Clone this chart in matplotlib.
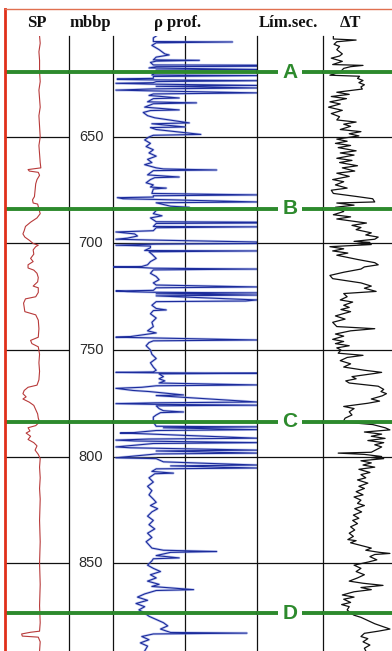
import matplotlib
matplotlib.use("Agg")
import matplotlib.pyplot as plt
from matplotlib.lines import Line2D
import numpy as np

# --- data (depth in m, curve position as % of track width) ---
depth_ticks = [650, 700, 750, 800, 850]
marker_labels = ["A", "B", "C", "D"]
marker_depths = [619.5, 683.8, 783.8, 873.5]
headers = ["SP", "mbbp", "\u03c1 prof.", "L\u00edm.sec.", "\u0394T"]

sp_log = [
    (602.6, 54), (606, 55), (610, 53), (614, 54), (619.5, 54), (624, 55), (628, 53),
    (632, 54), (636, 55), (640, 53), (645, 54), (650, 55), (654, 53), (658, 54),
    (662, 55), (664.5, 56), (665.3, 36), (666, 38), (666.6, 52), (668, 54), (670, 50),
    (672, 48), (675, 47), (678, 46), (679.5, 43), (681, 44), (681.5, 51), (683.8, 53),
    (686, 55), (688, 50), (690, 40), (692, 32), (694, 30), (695.5, 28), (697, 31),
    (698.5, 38), (700, 44), (700.8, 52), (701.5, 48), (703, 44), (705, 45), (707, 40),
    (708.5, 44), (710, 36), (711.5, 36), (712.5, 45), (714, 50), (716, 52), (718, 51),
    (720, 44), (720.8, 52), (723, 52), (725, 48), (726, 32), (728, 29), (730, 30),
    (732, 31), (733.5, 48), (736, 52), (740, 53), (744, 52), (745.5, 40), (747, 42),
    (748.5, 52), (752, 54), (756, 53), (760, 54), (764, 53), (766.5, 50), (767.5, 36),
    (769, 30), (770.5, 28), (772, 33), (773, 28), (774.5, 38), (776, 45), (778, 48),
    (780, 51), (782, 52), (783.8, 54), (785.5, 48), (786.5, 36), (788, 39), (789, 33),
    (790.5, 40), (792, 36), (793.5, 45), (795, 50), (797, 47), (799, 52), (801, 55),
    (805, 54), (810, 55), (815, 54), (820, 55), (830, 54), (840, 55), (850, 54),
    (860, 55), (870, 54), (878, 55), (882, 54), (882.5, 40), (883.3, 26), (884.3, 27),
    (884.8, 52), (887, 55), (891.3, 54),
]

rho_log = [
    (602.6, 30), (603.5, 28), (605.2, 28), (605.4, 83), (605.8, 30), (607, 27), (609, 32),
    (611, 36), (611.5, 39), (612.5, 30), (613.8, 28), (614.0, 60), (614.4, 30), (615, 26),
    (616.2, 28), (616.3, 100), (616.8, 100), (617.0, 30), (617.6, 25), (618.3, 100),
    (618.6, 30), (619.5, 30), (620.9, 27), (621.2, 100), (621.6, 28), (622.5, 28),
    (622.7, 3), (623.0, 3), (623.2, 28), (623.6, 100), (624.0, 30), (624.5, 28), (624.8, 2),
    (625.2, 28), (625.8, 100), (626.2, 30), (627.0, 100), (627.4, 30), (628.0, 2),
    (628.4, 30), (629.3, 100), (629.8, 28), (630.5, 25), (631.7, 46), (632.0, 28),
    (633.5, 24), (634.0, 58), (634.4, 28), (636.0, 22), (637.3, 46), (637.6, 26),
    (638.5, 21), (640.0, 24), (641.0, 29), (643.4, 53), (643.8, 27), (645.3, 50),
    (645.6, 26), (646.5, 30), (648.8, 61), (649.2, 28), (650.0, 25), (651.4, 22),
    (653.0, 26), (654.5, 23), (656.0, 28), (657.5, 25), (659.0, 30), (660.5, 24),
    (662.0, 27), (663.0, 22), (664.5, 30), (665.0, 35), (665.5, 72), (665.8, 28),
    (667.8, 24), (668.8, 46), (669.1, 29), (670.0, 26), (671.5, 23), (672.5, 28),
    (673.5, 26), (674.0, 37), (674.4, 28), (676.5, 27), (677.2, 100), (677.6, 28),
    (678.2, 28), (678.5, 3), (679.0, 7), (679.3, 28), (680.5, 100), (680.9, 30),
    (682.5, 40), (683.0, 53), (683.5, 35), (684.5, 30), (686.0, 28), (687.0, 34),
    (688.0, 26), (689.8, 30), (690.0, 100), (690.4, 100), (690.6, 30), (692.0, 28),
    (692.2, 100), (692.6, 30), (694.0, 28), (694.6, 2), (695.5, 15), (696.5, 17),
    (697.5, 10), (698.0, 2), (698.4, 28), (699.3, 100), (700.0, 100), (700.3, 30),
    (700.8, 2), (701.2, 26), (702.0, 26), (703.3, 22), (703.5, 100), (703.9, 25),
    (705.0, 27), (707.0, 30), (708.5, 26), (710.0, 24), (710.8, 20), (711.0, 0),
    (711.3, 20), (711.6, 28), (712.0, 100), (712.4, 28), (714.0, 26), (715.5, 30),
    (717.0, 32), (718.5, 28), (719.5, 30), (720.4, 100), (720.8, 30), (722.0, 28),
    (722.3, 2), (722.6, 10), (722.9, 28), (723.2, 100), (723.6, 30), (724.2, 100),
    (724.6, 30), (726.5, 100), (727.0, 92), (727.3, 30), (729.0, 27), (730.5, 30),
    (731.2, 37), (731.5, 28), (733.0, 26), (735.0, 30), (737.0, 27), (739.0, 28),
    (741.0, 24), (742.0, 30), (743.7, 12), (744.0, 2), (744.3, 25), (745.3, 100),
    (745.7, 28), (746.5, 25), (748.0, 23), (750.0, 26), (752.0, 27), (754.0, 30),
    (756.0, 26), (758.0, 28), (759.5, 30), (760.3, 28), (760.5, 2), (760.7, 28),
    (760.9, 100), (761.2, 32), (762.5, 35), (763.5, 32), (764.5, 36), (765.5, 32),
    (766.4, 100), (766.8, 30), (767.5, 20), (768.0, 2), (768.5, 8), (769.0, 14),
    (769.5, 25), (771.1, 49), (771.4, 30), (774.4, 100), (774.8, 30), (775.2, 2),
    (775.5, 28), (775.9, 100), (776.2, 30), (777.5, 32), (778.5, 35), (779.1, 49),
    (779.4, 33), (780.5, 30), (781.5, 28), (783.0, 28), (783.8, 28), (785.8, 30),
    (786.1, 100), (786.5, 35), (787.4, 100), (787.8, 30), (788.8, 14), (789.0, 5),
    (789.3, 20), (791.4, 100), (791.8, 25), (792.3, 2), (792.7, 15), (793.5, 100),
    (793.9, 28), (795.5, 2), (795.9, 12), (797.0, 100), (797.4, 30), (798.4, 100),
    (798.8, 30), (800.6, 2), (801.0, 30), (802.5, 35), (804.0, 100), (804.4, 40),
    (805.4, 100), (805.8, 30), (807.0, 27), (807.8, 42), (808.1, 29), (810.0, 25),
    (812.0, 28), (814.0, 24), (816.0, 27), (818.0, 25), (820.0, 28), (821.5, 30),
    (823.0, 26), (824.5, 31), (826.0, 27), (828.0, 24), (830.0, 28), (832.0, 25),
    (834.0, 29), (836.0, 24), (838.0, 27), (840.0, 23), (841.5, 25), (843.0, 27),
    (844.0, 35), (844.6, 72), (845.0, 40), (846.5, 30), (847.6, 46), (848.0, 28),
    (849.0, 27), (851.0, 24), (852.5, 28), (854.0, 33), (855.5, 26), (857.0, 30),
    (858.5, 24), (860.0, 32), (861.0, 27), (862.5, 56), (862.9, 30), (864.5, 22),
    (866.0, 17), (867.5, 24), (869.0, 16), (870.5, 22), (872.0, 18), (873.5, 22),
    (875.0, 25), (876.5, 30), (878.0, 35), (879.5, 38), (881.0, 33), (882.6, 40),
    (882.9, 93), (883.3, 28), (884.5, 20), (886.0, 25), (887.5, 19), (889.0, 24),
    (891.3, 22),
]

dt_log = [
    (602.6, 15), (604.0, 15), (604.5, 48), (605.3, 20), (606.5, 16), (607.5, 24),
    (609.0, 20), (611.0, 28), (612.0, 24), (613.0, 12), (614.5, 28), (616.0, 14),
    (616.4, 58), (617.0, 40), (617.8, 30), (619.5, 25), (621.0, 10), (621.5, 53),
    (622.5, 50), (623.5, 58), (624.5, 52), (625.5, 60), (626.5, 55), (627.5, 57),
    (629.0, 20), (630.0, 38), (631.0, 12), (632.0, 34), (633.5, 10), (634.5, 25),
    (636.0, 8), (637.5, 28), (639.0, 12), (640.5, 24), (642.0, 20), (643.0, 48),
    (644.0, 30), (645.0, 40), (646.5, 25), (647.5, 55), (648.5, 38), (649.5, 52),
    (651.0, 20), (652.0, 35), (653.0, 18), (654.0, 40), (655.0, 22), (656.5, 48),
    (657.5, 25), (658.5, 45), (660.0, 20), (661.0, 42), (662.0, 24), (663.5, 50),
    (664.5, 28), (666.0, 46), (667.0, 20), (668.5, 38), (670.0, 14), (671.0, 30),
    (672.5, 18), (674.0, 35), (675.0, 12), (676.5, 15), (678.0, 50), (679.0, 72),
    (680.5, 75), (681.0, 20), (682.0, 45), (683.0, 18), (685.0, 30), (686.5, 15),
    (687.5, 40), (688.5, 20), (690.4, 63), (691.5, 42), (692.5, 55), (693.5, 48),
    (695.0, 70), (696.0, 62), (697.0, 80), (698.0, 75), (699.0, 45), (699.5, 68),
    (700.0, 50), (700.5, 70), (701.5, 10), (702.5, 30), (703.5, 14), (704.5, 36),
    (705.5, 20), (707.5, 50), (709.0, 75), (710.0, 80), (711.0, 60), (712.0, 55),
    (713.5, 30), (715.0, 10), (716.5, 14), (718.5, 55), (720.0, 70), (721.0, 60),
    (722.5, 77), (723.5, 30), (725.0, 35), (726.5, 25), (727.5, 43), (729.0, 30),
    (730.0, 38), (731.0, 26), (732.0, 40), (734.0, 18), (735.5, 32), (737.0, 14),
    (739.0, 20), (740.0, 75), (741.0, 40), (742.5, 18), (743.5, 30), (745.0, 14),
    (746.0, 30), (747.0, 18), (748.0, 38), (749.0, 20), (750.0, 26), (751.5, 22),
    (752.5, 58), (753.5, 35), (755.0, 25), (756.5, 40), (758.0, 30), (759.5, 60),
    (760.5, 85), (761.0, 75), (762.5, 42), (763.5, 48), (764.5, 33), (765.5, 38),
    (767.0, 80), (768.5, 88), (769.5, 84), (770.5, 92), (771.5, 86), (773.0, 70),
    (774.0, 82), (775.0, 65), (776.5, 30), (777.5, 45), (779.0, 38), (780.5, 42),
    (782.0, 32), (783.8, 29), (785.0, 72), (786.5, 90), (787.5, 97), (788.5, 60),
    (789.5, 85), (790.5, 70), (791.5, 90), (792.5, 65), (793.5, 88), (794.5, 75),
    (795.5, 85), (798.0, 70), (798.4, 22), (799.0, 60), (800.0, 85), (800.5, 70),
    (801.0, 88), (802.0, 55), (803.0, 70), (804.0, 58), (805.0, 75), (806.0, 52),
    (807.5, 68), (808.5, 55), (810.0, 62), (811.0, 50), (812.5, 65), (814.0, 52),
    (815.0, 60), (816.5, 48), (818.0, 58), (819.0, 45), (820.5, 55), (822.0, 50),
    (823.0, 60), (824.5, 46), (826.0, 56), (827.5, 44), (829.0, 52), (830.0, 43),
    (831.5, 50), (833.0, 40), (834.5, 46), (836.0, 38), (837.5, 44), (839.0, 36),
    (839.5, 48), (840.5, 40), (842.0, 58), (843.0, 70), (844.0, 62), (845.0, 82),
    (845.5, 97), (846.0, 75), (847.0, 68), (848.5, 78), (849.5, 66), (851.0, 45),
    (852.5, 55), (854.0, 48), (855.5, 60), (857.0, 50), (858.5, 38), (859.5, 58),
    (860.5, 87), (861.5, 55), (862.5, 70), (863.5, 45), (865.0, 28), (866.0, 45),
    (867.0, 30), (868.5, 40), (869.5, 27), (870.5, 38), (872.0, 35), (873.5, 40),
    (874.5, 45), (875.5, 55), (877.0, 65), (878.5, 75), (880.0, 88), (881.0, 97),
    (882.0, 80), (883.0, 60), (884.5, 55), (885.5, 65), (887.0, 58), (888.5, 68),
    (890.0, 60), (891.3, 62),
]

W, H = 392, 651
TOP = (H - 36) / H
GREEN = "#2d8a2d"

fig = plt.figure(figsize=(W / 100, H / 100), dpi=100)
fig.patch.set_facecolor("white")

# track edges in pixels
edges = [5, 69, 113, 257, 323, 392]
axes = []
for i in range(5):
    x0, x1 = edges[i], edges[i + 1]
    ax = fig.add_axes([x0 / W, 0, (x1 - x0) / W, TOP])
    ax.set_xlim(0, 100)
    ax.set_ylim(891.3, 602.6)
    ax.set_xticks([])
    ax.set_yticks([])
    for s in ["top", "right", "bottom"]:
        ax.spines[s].set_visible(False)
    ax.spines["left"].set_color("#111111")
    ax.spines["left"].set_linewidth(0.9)
    axes.append(ax)

ax_sp, ax_depth, ax_rho, ax_lim, ax_dt = axes
ax_sp.spines["left"].set_visible(False)

# depth grid (not in depth track)
for ax in [ax_sp, ax_rho, ax_lim, ax_dt]:
    for d in depth_ticks:
        ax.axhline(d, color="#111111", lw=0.9, zorder=1)
ax_rho.axvline(50, color="#111111", lw=0.9, zorder=1)

for d in depth_ticks:
    ax_depth.text(50, d, str(d), ha="center", va="center", fontsize=10.5,
                  family="Liberation Sans", color="#2a2a2a")

# curves
sp = np.array(sp_log)
ax_sp.plot(sp[:, 1], sp[:, 0], color="#b83a3a", lw=0.8, zorder=3)

rho = np.array(rho_log)
ax_rho.plot(rho[:, 1], rho[:, 0], color="#7f8fe0", lw=1.8, alpha=0.45, zorder=2)
ax_rho.plot(rho[:, 1], rho[:, 0], color="#1c2c9c", lw=0.8, zorder=3)

dt = np.array(dt_log)
ax_dt.plot(dt[:, 1], dt[:, 0], color="#111111", lw=0.9, zorder=3)

# sequence boundaries
for ax in axes:
    for d in marker_depths:
        ax.axhline(d, color=GREEN, lw=2.8, zorder=4)
for lab, d in zip(marker_labels, marker_depths):
    ax_lim.text(50, d, lab, ha="center", va="center", fontsize=15, fontweight="bold",
                family="Liberation Sans", color=GREEN, zorder=6,
                bbox=dict(facecolor="white", edgecolor="none", pad=3.5))

# headers
header_x = [37, 90, 178, 288, 350]
for txt, x in zip(headers, header_x):
    fig.text(x / W, 1 - 27 / H, txt, ha="center", va="baseline", fontsize=12,
             fontweight="bold", family="Liberation Serif", color="#111111")

# frame: red left border and top line
fig.add_artist(Line2D([5 / W, 5 / W], [0, 1 - 9 / H], color="#e0301a", lw=2.0))
fig.add_artist(Line2D([5 / W, 1], [1 - 9 / H, 1 - 9 / H], color="#e07050", lw=1.0))

fig.savefig("out.png", dpi=100)
